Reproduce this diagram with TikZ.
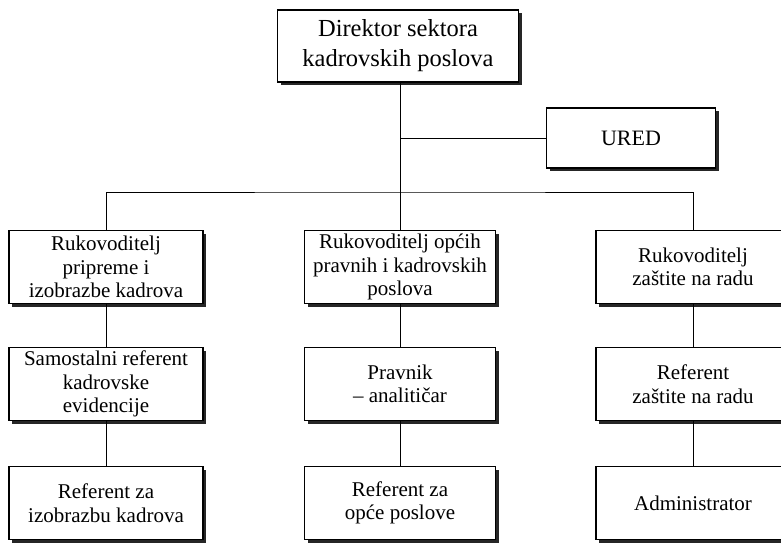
\documentclass[tikz,border=0pt]{standalone}
\usepackage{fontspec}
\setmainfont{Liberation Serif}
\usetikzlibrary{positioning}

\begin{document}
\begin{tikzpicture}[x=1pt, y=-1pt,
    box/.style={draw, line width=1.2pt, fill=white, align=center, inner sep=1pt,
        minimum width=194pt, minimum height=73pt, font=\fontsize{21}{23.5}\selectfont,
        preaction={fill=black!85, transform canvas={xshift=3pt, yshift=-3pt}}},
    link/.style={line width=1pt}]
    \clip (0,0) rectangle (781,543);
    \fill[white] (0,0) rectangle (781,543);

    % Director
    \node[box, minimum width=241pt, minimum height=72pt, font=\fontsize{24.5}{30}\selectfont] (dir) at (398,46) {Direktor sektora\\kadrovskih poslova};

    % Office
    \node[box, minimum width=169pt, minimum height=60pt, font=\fontsize{22}{26}\selectfont] (ured) at (631,138) {URED};

    % First row
    \node[box] (rukpr) at (106,267) {Rukovoditelj\\pripreme i\\izobrazbe kadrova};
    \node[box, minimum width=191pt] (rukop) at (400,267) {Rukovoditelj općih\\pravnih i kadrovskih\\poslova};
    \node[box] (rukza) at (693,267) {Rukovoditelj\\zaštite na radu};

    % Second row
    \node[box] (samref) at (106,384) {Samostalni referent\\kadrovske\\evidencije};
    \node[box, minimum width=191pt] (pravnik) at (400,384) {Pravnik\\– analitičar};
    \node[box] (refza) at (693,384) {Referent\\zaštite na radu};

    % Third row
    \node[box] (refiz) at (106,503) {Referent za\\izobrazbu kadrova};
    \node[box, minimum width=191pt] (refop) at (400,503) {Referent za\\opće poslove};
    \node[box] (admin) at (693,503) {Administrator};

    % Lines
    \coordinate (bus) at (400,192);
    \draw[link] (dir.south -| rukop.north) -- (rukop.north);
    \draw[link] (ured.west) -- (ured.west -| rukop.north);
    \draw[link] (rukpr.north) |- (bus) -| (rukza.north);
    \draw[link] (rukpr.south) -- (samref.north);
    \draw[link] (samref.south) -- (refiz.north);
    \draw[link] (rukop.south) -- (pravnik.north);
    \draw[link] (pravnik.south) -- (refop.north);
    \draw[link] (rukza.south) -- (refza.north);
    \draw[link] (refza.south) -- (admin.north);
\end{tikzpicture}
\end{document}
